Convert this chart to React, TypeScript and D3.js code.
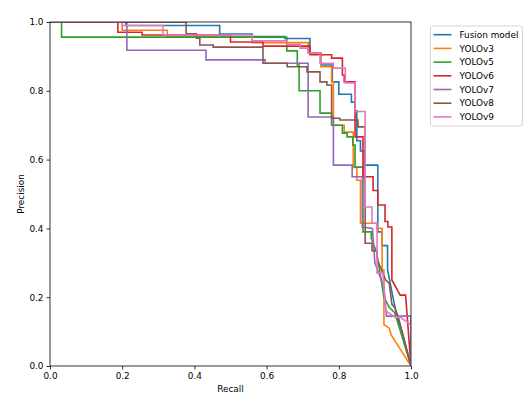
import * as d3 from 'd3'
import { useEffect, useRef } from 'react'

// series names and colours (matplotlib tab10)
const seriesNames = ['Fusion model', 'YOLOv3', 'YOLOv5', 'YOLOv6', 'YOLOv7', 'YOLOv8', 'YOLOv9']
const colors = ['#1f77b4', '#ff7f0e', '#2ca02c', '#d62728', '#9467bd', '#8c564b', '#e377c2']

const xTicks = [0, 0.2, 0.4, 0.6, 0.8, 1.0]
const yTicks = [0, 0.2, 0.4, 0.6, 0.8, 1.0]

// [recall, precision] - precision holds until the next recall
const fusionSteps = [[0, 1], [0.21, 0.99], [0.47, 0.965], [0.56, 0.958], [0.65, 0.952], [0.72, 0.91], [0.75, 0.875], [0.782, 0.826], [0.8, 0.79], [0.835, 0.767], [0.845, 0.742], [0.85, 0.655], [0.86, 0.625], [0.87, 0.584], [0.908, 0.39], [0.92, 0.35], [0.935, 0.28]]
const fusionTail = [[0.95, 0.2], [0.962, 0.14], [0.975, 0.1], [1, 0]]

const yolov3Steps = [[0, 1], [0.2, 0.976], [0.325, 0.956], [0.56, 0.94], [0.715, 0.91], [0.75, 0.87], [0.78, 0.826], [0.785, 0.7], [0.815, 0.68], [0.84, 0.577], [0.85, 0.54], [0.86, 0.415], [0.905, 0.4], [0.92, 0.28], [0.925, 0.12]]
const yolov3Tail = [[0.94, 0.11], [0.945, 0.09], [1, 0]]

const yolov5Steps = [[0, 1], [0.032, 0.956], [0.656, 0.916], [0.685, 0.875], [0.69, 0.8], [0.748, 0.735], [0.78, 0.7], [0.81, 0.677], [0.823, 0.666], [0.839, 0.642], [0.845, 0.578], [0.867, 0.39], [0.89, 0.37]]
const yolov5Tail = [[0.905, 0.33], [0.925, 0.2], [0.94, 0.17], [0.955, 0.155], [1, 0]]

const yolov6Steps = [[0, 1], [0.188, 0.97], [0.255, 0.962], [0.5, 0.942], [0.59, 0.93], [0.72, 0.905], [0.78, 0.895], [0.81, 0.846], [0.815, 0.826], [0.845, 0.666], [0.867, 0.55], [0.895, 0.51], [0.908, 0.468], [0.928, 0.42], [0.936, 0.404], [0.947, 0.25]]
const yolov6Tail = [[0.97, 0.206], [0.985, 0.206], [1, 0]]

const yolov7Steps = [[0, 1], [0.213, 0.918], [0.432, 0.89], [0.596, 0.88], [0.715, 0.724], [0.785, 0.584], [0.837, 0.55], [0.865, 0.404]]
const yolov7Tail = [[0.893, 0.4], [0.9, 0.3], [0.925, 0.23], [0.932, 0.145], [1, 0.145], [1, 0]]

const yolov8Steps = [[0, 1], [0.377, 0.966], [0.406, 0.953], [0.415, 0.933], [0.452, 0.927], [0.59, 0.88], [0.657, 0.87], [0.712, 0.855], [0.748, 0.826], [0.767, 0.817], [0.78, 0.72], [0.803, 0.715], [0.853, 0.695], [0.873, 0.357], [0.892, 0.335], [0.906, 0.31]]
const yolov8Tail = [[0.93, 0.25], [0.94, 0.24], [0.947, 0.18], [0.955, 0.17], [0.965, 0.142], [1, 0]]

const yolov9Steps = [[0, 1], [0.2, 0.99], [0.313, 0.962], [0.56, 0.945], [0.657, 0.935], [0.693, 0.924], [0.715, 0.91], [0.748, 0.88], [0.785, 0.866], [0.818, 0.823], [0.845, 0.74], [0.873, 0.462], [0.892, 0.415], [0.906, 0.27]]
const yolov9Tail = [[0.922, 0.27], [0.93, 0.16], [0.956, 0.142], [0.97, 0.142], [1, 0.12], [1, 0]]

const allSteps = [fusionSteps, yolov3Steps, yolov5Steps, yolov6Steps, yolov7Steps, yolov8Steps, yolov9Steps]
const allTails = [fusionTail, yolov3Tail, yolov5Tail, yolov6Tail, yolov7Tail, yolov8Tail, yolov9Tail]

// step points -> corner points, then the straight tail
const expand = (steps: number[][], tail: number[][]) => {
	const pts: number[][] = []
	steps.forEach((d, i) => {
		if (i > 0) pts.push([d[0], steps[i - 1][1]])
		pts.push(d)
	})
	return pts.concat(tail)
}

const width = 532
const height = 399
const marginLeft = 50
const marginRight = 121
const marginTop = 22
const marginBottom = 33
const font = 'DejaVu Sans, sans-serif'
const fontSize = 8.9

const App = () => {
	const svgRef = useRef<SVGSVGElement>(null)

	useEffect(() => {
		const svg = d3.select(svgRef.current)
		svg.selectAll('*').remove()

		const x = d3.scaleLinear().domain([0, 1]).range([marginLeft, width - marginRight])
		const y = d3.scaleLinear().domain([0, 1]).range([height - marginBottom, marginTop])

		svg.append('defs')
			.append('clipPath')
			.attr('id', 'plot-clip')
			.append('rect')
			.attr('x', x(0))
			.attr('y', y(1))
			.attr('width', x(1) - x(0))
			.attr('height', y(0) - y(1))

		// curves
		const line = d3
			.line<number[]>()
			.x((d) => x(d[0]))
			.y((d) => y(d[1]))

		const g = svg.append('g').attr('clip-path', 'url(#plot-clip)')
		allSteps.forEach((steps, i) => {
			g.append('path')
				.attr('d', line(expand(steps, allTails[i])))
				.attr('fill', 'none')
				.attr('stroke', colors[i])
				.attr('stroke-width', 1.6)
				.attr('stroke-linejoin', 'miter')
		})

		// axes
		const xAxis = svg
			.append('g')
			.attr('transform', `translate(0,${y(0)})`)
			.call(d3.axisBottom(x).tickValues(xTicks).tickFormat(d3.format('.1f')).tickSize(3.5).tickPadding(3))
		const yAxis = svg
			.append('g')
			.attr('transform', `translate(${x(0)},0)`)
			.call(d3.axisLeft(y).tickValues(yTicks).tickFormat(d3.format('.1f')).tickSize(3.5).tickPadding(3))
		for (const ax of [xAxis, yAxis]) {
			ax.select('.domain').remove()
			ax.selectAll('.tick line').attr('stroke', '#000').attr('stroke-width', 0.8)
			ax.selectAll('.tick text').attr('font-family', font).attr('font-size', fontSize).attr('fill', '#000')
		}

		// spines
		svg.append('rect')
			.attr('x', x(0))
			.attr('y', y(1))
			.attr('width', x(1) - x(0))
			.attr('height', y(0) - y(1))
			.attr('fill', 'none')
			.attr('stroke', '#000')
			.attr('stroke-width', 0.8)

		svg.append('text')
			.attr('x', (x(0) + x(1)) / 2)
			.attr('y', 392)
			.attr('text-anchor', 'middle')
			.attr('font-family', font)
			.attr('font-size', fontSize)
			.text('Recall')

		svg.append('text')
			.attr('transform', `translate(24,${(y(0) + y(1)) / 2}) rotate(-90)`)
			.attr('text-anchor', 'middle')
			.attr('font-family', font)
			.attr('font-size', fontSize)
			.text('Precision')

		// legend
		const legend = svg.append('g')
		legend.append('rect')
			.attr('x', 430.5)
			.attr('y', 26)
			.attr('width', 92)
			.attr('height', 100)
			.attr('rx', 2)
			.attr('fill', '#fff')
			.attr('fill-opacity', 0.8)
			.attr('stroke', '#ccc')
			.attr('stroke-width', 0.8)
		seriesNames.forEach((name, i) => {
			const ly = 34.7 + i * 13.7
			legend.append('line')
				.attr('x1', 433.5)
				.attr('x2', 451.5)
				.attr('y1', ly)
				.attr('y2', ly)
				.attr('stroke', colors[i])
				.attr('stroke-width', 1.6)
			legend.append('text')
				.attr('x', 459.5)
				.attr('y', ly + 3.2)
				.attr('font-family', font)
				.attr('font-size', fontSize)
				.text(name)
		})
	}, [])

	return (
		<svg
			ref={svgRef}
			width={width}
			height={height}
			style={{ position: 'absolute', left: 0, top: 0, display: 'block', background: '#fff' }}
		></svg>
	)
}

export default App
